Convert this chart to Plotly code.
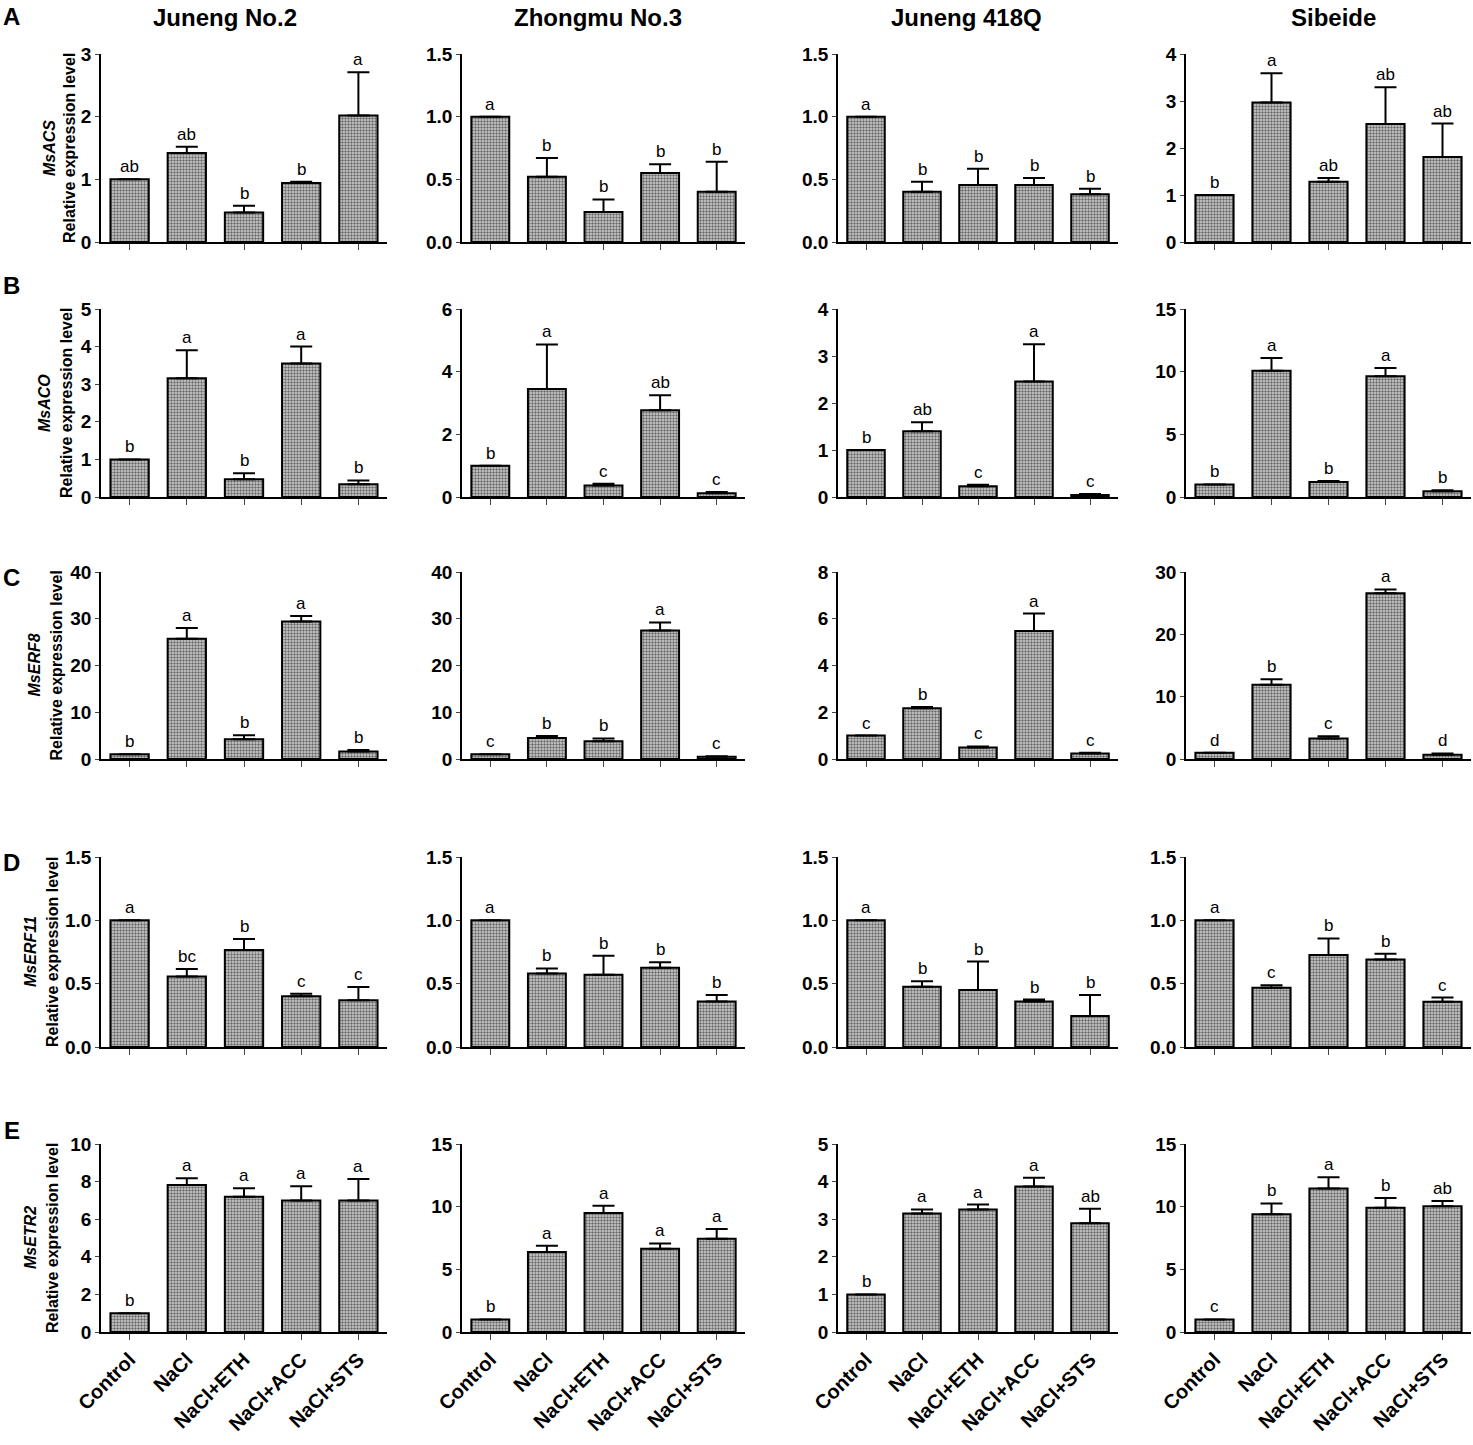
import plotly.graph_objects as go

W, H = 1473, 1445

CATEGORIES = ["Control", "NaCl", "NaCl+ETH", "NaCl+ACC", "NaCl+STS"]
CULTIVARS = ["Juneng No.2", "Zhongmu No.3", "Juneng 418Q", "Sibeide"]
GENES = ["MsACS", "MsACO", "MsERF8", "MsERF11", "MsETR2"]
PANEL_LETTERS = ["A", "B", "C", "D", "E"]

# ---- MsACS ----
ACS_MEAN = [[1.0, 1.42, 0.47, 0.94, 2.02],
            [1.0, 0.52, 0.24, 0.55, 0.40],
            [1.0, 0.40, 0.455, 0.455, 0.38],
            [1.0, 2.97, 1.28, 2.51, 1.81]]
ACS_ERR = [[0.0, 0.10, 0.11, 0.02, 0.69],
           [0.0, 0.15, 0.10, 0.07, 0.24],
           [0.0, 0.08, 0.13, 0.055, 0.045],
           [0.0, 0.62, 0.08, 0.78, 0.71]]
ACS_SIG = [["ab", "ab", "b", "b", "a"],
           ["a", "b", "b", "b", "b"],
           ["a", "b", "b", "b", "b"],
           ["b", "a", "ab", "ab", "ab"]]
ACS_TICKS = [[0, 1, 2, 3], [0, 0.5, 1.0, 1.5], [0, 0.5, 1.0, 1.5], [0, 1, 2, 3, 4]]

# ---- MsACO ----
ACO_MEAN = [[1.0, 3.16, 0.47, 3.55, 0.34],
            [1.0, 3.45, 0.37, 2.77, 0.12],
            [1.0, 1.40, 0.23, 2.46, 0.04],
            [1.0, 10.08, 1.2, 9.63, 0.45]]
ACO_ERR = [[0.0, 0.74, 0.16, 0.45, 0.10],
           [0.0, 1.42, 0.05, 0.48, 0.04],
           [0.0, 0.19, 0.03, 0.79, 0.025],
           [0.0, 1.02, 0.08, 0.67, 0.08]]
ACO_SIG = [["b", "a", "b", "a", "b"],
           ["b", "a", "c", "ab", "c"],
           ["b", "ab", "c", "a", "c"],
           ["b", "a", "b", "a", "b"]]
ACO_TICKS = [[0, 1, 2, 3, 4, 5], [0, 2, 4, 6], [0, 1, 2, 3, 4], [0, 5, 10, 15]]

# ---- MsERF8 ----
ERF8_MEAN = [[1.0, 25.7, 4.2, 29.4, 1.6],
             [1.0, 4.5, 3.8, 27.5, 0.5],
             [1.0, 2.17, 0.49, 5.48, 0.23],
             [1.0, 11.9, 3.3, 26.6, 0.7]]
ERF8_ERR = [[0.0, 2.3, 0.9, 1.2, 0.3],
            [0.0, 0.4, 0.6, 1.7, 0.1],
            [0.0, 0.05, 0.05, 0.74, 0.04],
            [0.0, 0.9, 0.35, 0.6, 0.2]]
ERF8_SIG = [["b", "a", "b", "a", "b"],
            ["c", "b", "b", "a", "c"],
            ["c", "b", "c", "a", "c"],
            ["d", "b", "c", "a", "d"]]
ERF8_TICKS = [[0, 10, 20, 30, 40], [0, 10, 20, 30, 40], [0, 2, 4, 6, 8], [0, 10, 20, 30]]

# ---- MsERF11 ----
ERF11_MEAN = [[1.0, 0.557, 0.766, 0.40, 0.37],
              [1.0, 0.58, 0.57, 0.625, 0.36],
              [1.0, 0.476, 0.45, 0.36, 0.245],
              [1.0, 0.467, 0.727, 0.69, 0.357]]
ERF11_ERR = [[0.0, 0.058, 0.087, 0.02, 0.103],
             [0.0, 0.04, 0.15, 0.045, 0.05],
             [0.0, 0.044, 0.225, 0.015, 0.165],
             [0.0, 0.02, 0.13, 0.047, 0.033]]
ERF11_SIG = [["a", "bc", "b", "c", "c"],
             ["a", "b", "b", "b", "b"],
             ["a", "b", "b", "b", "b"],
             ["a", "c", "b", "b", "c"]]
ERF11_TICKS = [[0, 0.5, 1.0, 1.5]] * 4

# ---- MsETR2 ----
ETR2_MEAN = [[1.0, 7.82, 7.19, 7.0, 7.0],
             [1.0, 6.38, 9.5, 6.65, 7.45],
             [1.0, 3.15, 3.26, 3.87, 2.89],
             [1.0, 9.39, 11.45, 9.92, 10.03]]
ETR2_ERR = [[0.0, 0.36, 0.46, 0.75, 1.14],
            [0.0, 0.51, 0.58, 0.42, 0.77],
            [0.0, 0.11, 0.13, 0.23, 0.39],
            [0.0, 0.87, 0.9, 0.77, 0.42]]
ETR2_SIG = [["b", "a", "a", "a", "a"],
            ["b", "a", "a", "a", "a"],
            ["b", "a", "a", "a", "ab"],
            ["c", "b", "a", "b", "ab"]]
ETR2_TICKS = [[0, 2, 4, 6, 8, 10], [0, 5, 10, 15], [0, 1, 2, 3, 4, 5], [0, 5, 10, 15]]

MEANS = [ACS_MEAN, ACO_MEAN, ERF8_MEAN, ERF11_MEAN, ETR2_MEAN]
ERRS = [ACS_ERR, ACO_ERR, ERF8_ERR, ERF11_ERR, ETR2_ERR]
SIGS = [ACS_SIG, ACO_SIG, ERF8_SIG, ERF11_SIG, ETR2_SIG]
TICKS = [ACS_TICKS, ACO_TICKS, ERF8_TICKS, ERF11_TICKS, ETR2_TICKS]

# ---- layout geometry (pixels) ----
COL_X = [(101, 387), (462, 745), (838, 1118), (1186, 1471)]
ROW_Y = [(54, 242), (309, 497), (572, 759), (857, 1047), (1144, 1332)]
TITLE_X = [225, 598, 966, 1333]
YTITLE_X = [(49, 69), (44, 66), (34, 56), (30, 52), (30, 52)]
LETTER_Y = [17, 285, 577, 862, 1130]

FONT = "Liberation Sans, Arial, sans-serif"

fig = go.Figure()
annotations = []
layout = dict(
    width=W, height=H, margin=dict(l=0, r=0, t=0, b=0, pad=0, autoexpand=False),
    paper_bgcolor="white", plot_bgcolor="white", showlegend=False,
    font=dict(family=FONT, color="black"),
)

def px_x(p):
    return p / W

def px_y(p):
    return 1 - p / H

k = 0
for r in range(5):
    for c in range(4):
        k += 1
        xa = "x" if k == 1 else f"x{k}"
        ya = "y" if k == 1 else f"y{k}"
        xkey = "xaxis" if k == 1 else f"xaxis{k}"
        ykey = "yaxis" if k == 1 else f"yaxis{k}"
        mean = MEANS[r][c]
        err = ERRS[r][c]
        sig = SIGS[r][c]
        ticks = TICKS[r][c]
        fig.add_trace(go.Bar(
            x=list(range(5)), y=mean, xaxis=xa, yaxis=ya, width=0.67,
            marker=dict(color="#d4d4d4", line=dict(color="black", width=2),
                        pattern=dict(shape=".", fgcolor="#000000", bgcolor="#d4d4d4",
                                     size=3, solidity=0.5)),
            error_y=dict(type="data", symmetric=False, array=err,
                         arrayminus=[0] * 5, color="black", thickness=2, width=11),
        ))
        x0, x1 = COL_X[c]
        yt, yb = ROW_Y[r]
        is_dec = any(isinstance(t, float) and t != int(t) for t in ticks)
        layout[xkey] = dict(
            domain=[px_x(x0), px_x(x1)], anchor=ya, range=[-0.5, 4.5],
            tickmode="array", tickvals=list(range(5)),
            ticktext=CATEGORIES if r == 4 else [""] * 5,
            tickangle=-45, ticks="outside", ticklen=6, tickwidth=1.2,
            showline=True, linecolor="black", linewidth=2,
            showgrid=False, zeroline=False, fixedrange=True, automargin=False,
            tickfont=dict(family=FONT, size=20, color="black", weight="bold"),
        )
        layout[ykey] = dict(
            domain=[px_y(yb), px_y(yt)], anchor=xa, range=[0, ticks[-1]],
            tickmode="array", tickvals=ticks,
            ticktext=[f"{t:.1f}" for t in ticks] if is_dec else [str(int(t)) for t in ticks],
            ticks="outside", ticklen=4, tickwidth=1.2,
            showline=True, linecolor="black", linewidth=1.5,
            showgrid=False, zeroline=False, fixedrange=True, automargin=False,
            tickfont=dict(family=FONT, size=19, color="black", weight="bold"),
        )
        for i in range(5):
            annotations.append(dict(
                x=i, y=mean[i] + err[i], xref=xa, yref=ya, text=sig[i],
                showarrow=False, yanchor="bottom", yshift=1,
                font=dict(family=FONT, size=17, color="black"),
            ))
    # y titles (first column only)
    yc = px_y((ROW_Y[r][0] + ROW_Y[r][1]) / 2)
    gx, rx = YTITLE_X[r]
    annotations.append(dict(
        x=px_x(gx), y=yc, xref="paper", yref="paper", text=f"<b><i>{GENES[r]}</i></b>",
        textangle=-90, showarrow=False, xanchor="center", yanchor="middle",
        font=dict(family=FONT, size=16, color="black"),
    ))
    annotations.append(dict(
        x=px_x(rx), y=yc, xref="paper", yref="paper", text="<b>Relative expression level</b>",
        textangle=-90, showarrow=False, xanchor="center", yanchor="middle",
        font=dict(family=FONT, size=16, color="black"),
    ))
    annotations.append(dict(
        x=px_x(12), y=px_y(LETTER_Y[r]), xref="paper", yref="paper",
        text=f"<b>{PANEL_LETTERS[r]}</b>", showarrow=False,
        xanchor="center", yanchor="middle",
        font=dict(family=FONT, size=24, color="black"),
    ))

for c in range(4):
    annotations.append(dict(
        x=px_x(TITLE_X[c]), y=px_y(18), xref="paper", yref="paper",
        text=f"<b>{CULTIVARS[c]}</b>", showarrow=False,
        xanchor="center", yanchor="middle",
        font=dict(family=FONT, size=24, color="black"),
    ))

layout["annotations"] = annotations
fig.update_layout(**layout)
fig.write_html("out.html", config={"displayModeBar": False},
               post_script="document.body.style.margin='0px';")
